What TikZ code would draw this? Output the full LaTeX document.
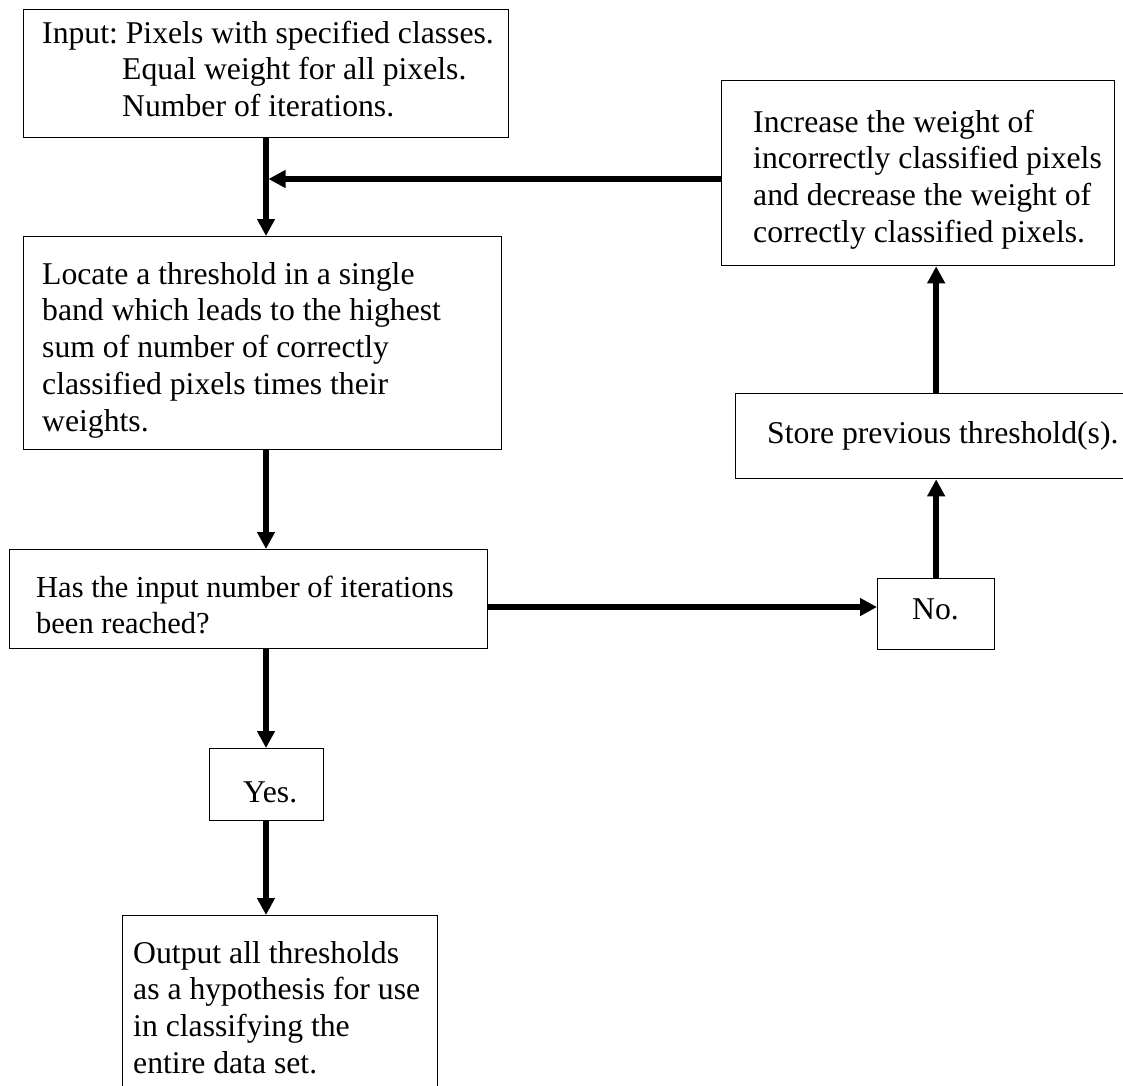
\documentclass[tikz,border=0pt]{standalone}
\usepackage{fontspec}
\setmainfont{Liberation Serif}
\usetikzlibrary{arrows.meta,calc}
\newcommand\nsp{\spaceskip=0pt\xspaceskip=0pt\relax}
\begin{document}
\frenchspacing
\begin{tikzpicture}[x=1pt,y=-1pt,
  box/.style={draw=black, line width=1.3pt, inner sep=0pt, anchor=north west},
  txt/.style={inner sep=0pt, anchor=north west, align=left, text width=600pt,
    font=\fontsize{31.7}{36.8}\selectfont\frenchspacing},
  arr/.style={line width=5.5pt, -{Triangle[length=17pt,width=17pt]}}
]
\useasboundingbox (0,0) rectangle (1123,1085);
\clip (0,0) rectangle (1123,1085);
\fill[white] (0,0) rectangle (1123,1085);

% boxes
\node[box, minimum width=485pt, minimum height=128pt] (inp) at (23,9) {};
\node[box, minimum width=393pt, minimum height=185pt] (inc) at (721,80) {};
\node[box, minimum width=478pt, minimum height=213pt] (loc) at (23,236) {};
\node[box, minimum width=478pt, minimum height=99pt] (has) at (9,549) {};
\node[box, minimum width=400pt, minimum height=85pt] (sto) at (735,393) {};
\node[box, minimum width=117pt, minimum height=71pt] (no) at (877,578) {};
\node[box, minimum width=114pt, minimum height=72pt] (yes) at (209,748) {};
\node[box, minimum width=315pt, minimum height=185pt] (out) at (122,915) {};

% texts
\node[txt] (tinp) at (42,17.2) {\nsp\strut Input: Pixels with specified classes.\\
\hspace*{80pt}Equal weight for all pixels.\\
\hspace*{80pt}Number of iterations.};
\node[txt] (tinc) at (753,106.2) {\nsp\strut Increase the weight of\\
incorrectly classified pixels\\
and decrease the weight of\\
correctly classified pixels.};
\node[txt] (tloc) at (42,258.2) {\nsp\strut Locate a threshold in a single\\
band which leads to the highest\\
sum of number of correctly\\
classified pixels times their\\
weights.};
\node[txt, font=\fontsize{30.5}{36.8}\selectfont] (thas) at (36,571.2) {\nsp\strut Has the input number of iterations\\
been reached?};
\node[txt] (tsto) at (767,417.2) {\nsp\strut Store previous threshold(s).};
\node[txt] (tno) at (912,593.2) {\nsp\strut No.};
\node[txt] (tyes) at (243,776.2) {\nsp\strut Yes.};
\node[txt] (tout) at (133,937.2) {\nsp\strut Output all thresholds\\
as a hypothesis for use\\
in classifying the\\
entire data set.};

% connectors
\coordinate (sp) at (266,0);
\coordinate (fb) at (268.5,179);
\coordinate (hy) at (0,607);
\draw[arr] (sp |- inp.south) -- (sp |- loc.north);
\draw[arr] (inc.west |- fb) -- (fb);
\draw[arr] (sp |- loc.south) -- (sp |- has.north);
\draw[arr] (has.east |- hy) -- (no.west |- hy);
\draw[arr] (no.north) -- (no.north |- sto.south);
\draw[arr] (no.north |- sto.north) -- (no.north |- inc.south);
\draw[arr] (sp |- has.south) -- (sp |- yes.north);
\draw[arr] (sp |- yes.south) -- (sp |- out.north);
\end{tikzpicture}
\end{document}
